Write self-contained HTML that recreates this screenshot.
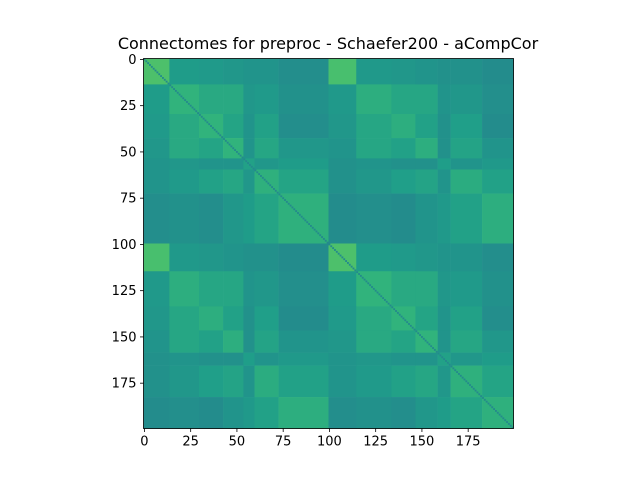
<!DOCTYPE html>
<html><head><meta charset="utf-8"><style>
body{margin:0;background:#fff}
svg{display:block}
text{font-family:"DejaVu Sans","Liberation Sans",sans-serif;fill:#000}
</style></head><body>
<svg id="chart" width="640" height="480" viewBox="0 0 640 480">
<rect width="640" height="480" fill="#fff"/>
<text x="328" y="49" font-size="16" text-anchor="middle">Connectomes for preproc - Schaefer200 - aCompCor</text>
<g id="cells"></g>
<g id="axes"></g>
</svg>
<script>
// network boundaries (ROI index start of each network), LH then RH
const networkNames = ["LH-Vis","LH-SomMot","LH-DorsAttn","LH-SalVentAttn","LH-Limbic","LH-Cont","LH-Default",
                      "RH-Vis","RH-SomMot","RH-DorsAttn","RH-SalVentAttn","RH-Limbic","RH-Cont","RH-Default"];
const networkStarts = [0,14,30,43,54,60,73,100,115,134,147,159,166,183];
const nROI = 200;
// within-hemisphere network-to-network connectivity (0..1 colour scale)
const netMatrix = [
  [0.84,0.54,0.52,0.50,0.48,0.48,0.44],
  [0.54,0.72,0.64,0.64,0.50,0.52,0.46],
  [0.52,0.64,0.72,0.60,0.48,0.58,0.44],
  [0.50,0.64,0.60,0.72,0.48,0.62,0.50],
  [0.48,0.50,0.48,0.48,0.58,0.50,0.54],
  [0.48,0.52,0.58,0.62,0.50,0.70,0.60],
  [0.44,0.46,0.44,0.50,0.54,0.60,0.70]
];
// scale of across-hemisphere connectivity relative to within
const crossScale = [0.98,0.95,0.95,0.95,0.95,0.95,0.97];
const diagValue = [0.40];
const xTicks = [0,25,50,75,100,125,150,175];
const yTicks = [0,25,50,75,100,125,150,175];

const L=143.5, T=58.5, S=370;
const cs = S/nROI;
const xPos = v => L + (v+0.5)*cs;
const yPos = v => T + (v+0.5)*cs;
const xEdge = i => L + i*cs;
const yEdge = i => T + i*cs;
const colourScale = v => 0.56 + (v-0.56)*0.55;

const vir=[[68,1,84],[72,40,120],[62,74,137],[49,104,142],[38,130,142],[31,158,137],[53,183,121],[109,205,89],[180,222,44],[253,231,37]];
function viridis(t){t=Math.max(0,Math.min(1,t));const p=t*9,i=Math.min(8,Math.floor(p)),f=p-i;
 const c=vir[i].map((a,k)=>Math.round(a+(vir[i+1][k]-a)*f));return `rgb(${c[0]},${c[1]},${c[2]})`;}

const NS="http://www.w3.org/2000/svg";
const cells=document.getElementById('cells');
const nb=networkStarts.length;
for(let a=0;a<nb;a++){
  const a0=networkStarts[a], a1=a+1<nb?networkStarts[a+1]:nROI;
  for(let b=0;b<nb;b++){
    const b0=networkStarts[b], b1=b+1<nb?networkStarts[b+1]:nROI;
    const na=a%7, nbn=b%7;
    let v=netMatrix[na][nbn];
    if((a<7)!==(b<7)) v*= (na===nbn?crossScale[na]:0.96);
    const r=document.createElementNS(NS,'rect');
    r.setAttribute('x',xEdge(b0));r.setAttribute('y',yEdge(a0));
    r.setAttribute('width',(b1-b0)*cs+0.3);r.setAttribute('height',(a1-a0)*cs+0.3);
    r.setAttribute('fill',viridis(colourScale(v)));
    
    
    cells.appendChild(r);
  }
}
for(let i=0;i<nROI;i++){
  const r=document.createElementNS(NS,'rect');
  r.setAttribute('x',xEdge(i));r.setAttribute('y',yEdge(i));
  r.setAttribute('width',cs);r.setAttribute('height',cs);
  r.setAttribute('fill',viridis(colourScale(diagValue[0])));
  
  
  cells.appendChild(r);
}
const ax=document.getElementById('axes');
const fr=document.createElementNS(NS,'rect');
fr.setAttribute('x',L);fr.setAttribute('y',T);fr.setAttribute('width',S);fr.setAttribute('height',S);
fr.setAttribute('fill','none');fr.setAttribute('stroke','#000');fr.setAttribute('stroke-width','0.8');


ax.appendChild(fr);
xTicks.forEach(v=>{
  const l=document.createElementNS(NS,'line');
  l.setAttribute('x1',xPos(v));l.setAttribute('x2',xPos(v));l.setAttribute('y1',T+S);l.setAttribute('y2',T+S+3.5);
  l.setAttribute('stroke','#000');l.setAttribute('stroke-width','0.8');
  
  
  ax.appendChild(l);
  const t=document.createElementNS(NS,'text');
  t.setAttribute('x',xPos(v));t.setAttribute('y',T+S+17);t.setAttribute('font-size','13');t.setAttribute('text-anchor','middle');
  t.textContent=v;
  
  
  ax.appendChild(t);
});
yTicks.forEach(v=>{
  const l=document.createElementNS(NS,'line');
  l.setAttribute('x1',L-3.5);l.setAttribute('x2',L);l.setAttribute('y1',yPos(v));l.setAttribute('y2',yPos(v));
  l.setAttribute('stroke','#000');l.setAttribute('stroke-width','0.8');
  
  
  ax.appendChild(l);
  const t=document.createElementNS(NS,'text');
  t.setAttribute('x',L-7);t.setAttribute('y',yPos(v)+4.5);t.setAttribute('font-size','13');t.setAttribute('text-anchor','end');
  t.textContent=v;
  
  
  ax.appendChild(t);
});
</script>
</body></html>
